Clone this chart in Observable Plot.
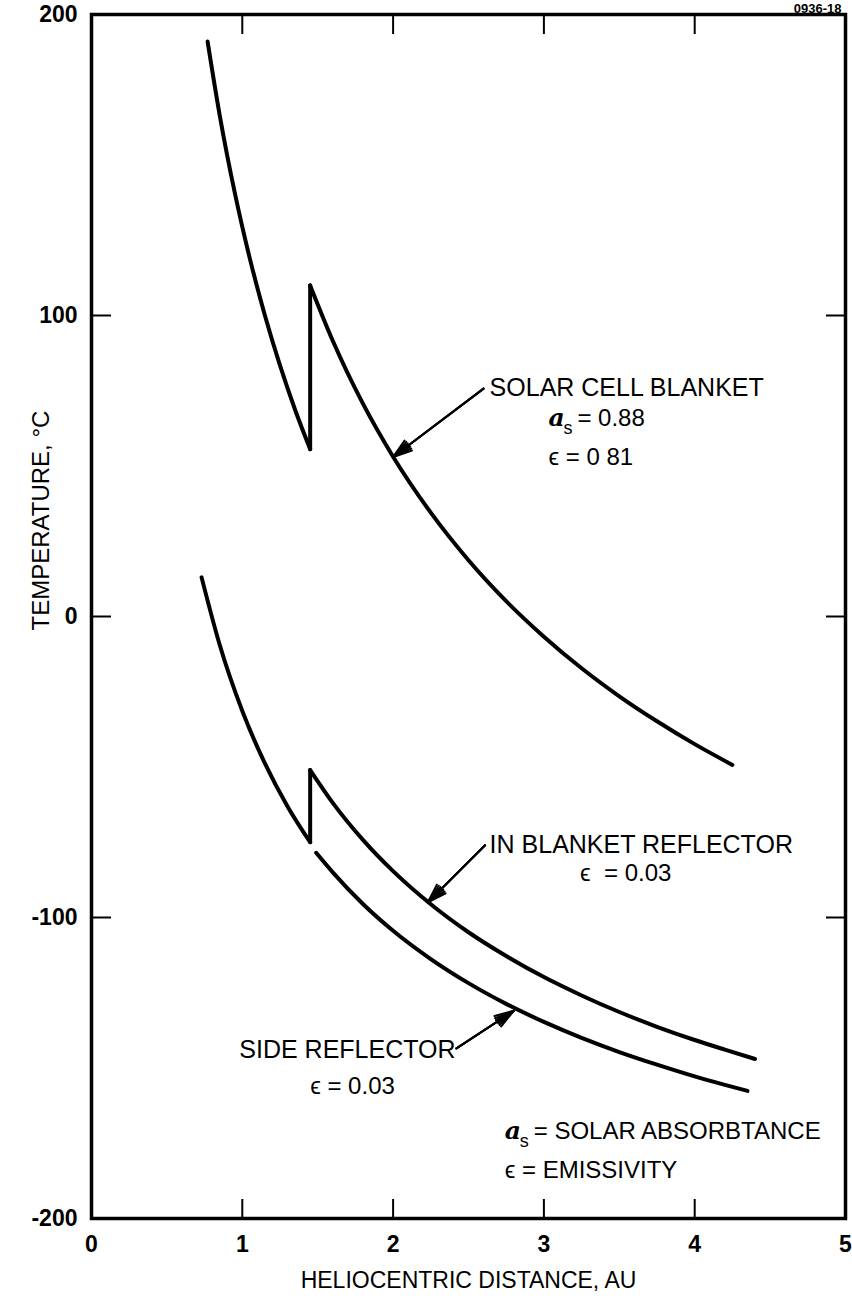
<!DOCTYPE html>
<html>
<head>
<meta charset="utf-8">
<script src="https://cdn.jsdelivr.net/npm/d3@7"></script>
<script src="https://cdn.jsdelivr.net/npm/@observablehq/plot@0.6"></script>
<style>
  html, body { margin: 0; padding: 0; background: #fff; }
  #chart svg { display: block; }
</style>
</head>
<body>
<div id="chart"></div>
<script>
// ---- Data (heliocentric distance AU, temperature °C) ----
const blanketX = [0.77, 0.85, 0.95, 1.05, 1.15, 1.25, 1.35, 1.45, 1.45, 1.6, 1.8, 2.0, 2.25, 2.5, 2.75, 3.0, 3.25, 3.5, 3.75, 4.0, 4.25];
const blanketT = [191, 166.6, 140.8, 118.9, 100.0, 83.4, 68.7, 55.6, 110, 91.6, 70.7, 53.1, 34.5, 18.7, 5.1, -6.7, -17.2, -26.5, -34.8, -42.4, -49.3];

const inBlanketX = [0.73, 0.85, 1.0, 1.15, 1.3, 1.45, 1.45, 1.6, 1.8, 2.0, 2.25, 2.5, 2.75, 3.0, 3.25, 3.5, 3.75, 4.0, 4.2, 4.4];
const inBlanketT = [13, -9.4, -31.4, -48.8, -63.1, -75.0, -51, -61.9, -74.2, -84.6, -95.6, -104.9, -112.8, -119.8, -125.9, -131.4, -136.3, -140.7, -143.9, -147.0];

const sideX = [1.49, 1.6, 1.8, 2.0, 2.25, 2.5, 2.75, 3.0, 3.25, 3.5, 3.75, 4.0, 4.2, 4.35];
const sideT = [-78.5, -85.0, -95.5, -104.4, -113.8, -121.8, -128.7, -134.7, -140.0, -144.7, -148.9, -152.8, -155.6, -157.6];

const xTickValues = [0, 1, 2, 3, 4, 5];
const xInnerTicks = [1, 2, 3, 4];
const yTickValues = [200, 100, 0, -100, -200];
const yInnerTicks = [100, 0, -100];

// annotation labels
const labelText = ["SOLAR CELL BLANKET", "IN BLANKET REFLECTOR", "SIDE REFLECTOR"];
const labelX = [2.64, 2.64, 0.98];
const labelT = [76, -76, -144];

const epsText = ["\u03F5 = 0 81", "\u03F5  = 0.03", "\u03F5 = 0.03", "\u03F5 = EMISSIVITY"];
const epsX = [3.03, 3.24, 1.45, 2.74];
const epsT = [53, -85.4, -156, -184];

const absText = ["= 0.88", "= SOLAR ABSORBTANCE"];
const absX = [3.03, 2.74];
const absT = [66, -171];

const arrowX1 = [2.6, 2.61, 2.42];
const arrowT1 = [75.7, -76, -143.5];
const arrowX2 = [2.0, 2.23, 2.8];
const arrowT2 = [53, -95, -131];

// ---- build tables ----
function segments(name, xs, ts) {
  const rows = [];
  let seg = 0;
  for (let i = 0; i < xs.length; i++) {
    if (i > 0 && xs[i] === xs[i - 1]) {
      // vertical jump drawn as its own straight segment
      seg++;
      rows.push({name, seg: `${name}-${seg}`, x: xs[i - 1], t: ts[i - 1]});
      rows.push({name, seg: `${name}-${seg}`, x: xs[i], t: ts[i]});
      seg++;
    }
    rows.push({name, seg: `${name}-${seg}`, x: xs[i], t: ts[i]});
  }
  return rows;
}
const curves = [
  ...segments("blanket", blanketX, blanketT),
  ...segments("inblanket", inBlanketX, inBlanketT),
  ...segments("side", sideX, sideT)
];
const labels = labelText.map((s, i) => ({s, x: labelX[i], t: labelT[i]}));
const eps = epsText.map((s, i) => ({s, x: epsX[i], t: epsT[i]}));
const abs = absText.map((s, i) => ({s, x: absX[i], t: absT[i]}));
const arrows = arrowX1.map((d, i) => ({x1: d, y1: arrowT1[i], x2: arrowX2[i], y2: arrowT2[i]}));

const FONT = "'Liberation Sans', Arial, Helvetica, sans-serif";
const arrowStyle = {x1: "x1", y1: "y1", x2: "x2", y2: "y2", stroke: "black", strokeWidth: 2, headLength: 15};

const chart = Plot.plot({
  width: 852,
  height: 1300,
  marginLeft: 91,
  marginRight: 7,
  marginTop: 14,
  marginBottom: 82,
  style: {fontFamily: FONT, background: "white", color: "black"},
  x: {domain: [0, 5]},
  y: {domain: [-200, 200]},
  marks: [
    Plot.frame({stroke: "black", strokeWidth: 3.5}),
    // tick labels
    Plot.axisX({ticks: xTickValues, tickSize: 0, tickPadding: 17, tickFormat: d => String(d),
      fontSize: 23, fontWeight: "bold", label: null}),
    Plot.axisY({ticks: yTickValues, tickSize: 0, tickPadding: 14, tickFormat: d => String(d),
      fontSize: 23, fontWeight: "bold", label: null}),
    // inward ticks
    Plot.axisX({anchor: "bottom", ticks: xInnerTicks, tickSize: -19, strokeWidth: 2, tickFormat: () => "", label: null}),
    Plot.axisX({anchor: "top", ticks: xInnerTicks, tickSize: -19, strokeWidth: 2, tickFormat: () => "", label: null}),
    Plot.axisY({anchor: "left", ticks: yInnerTicks, tickSize: -20, strokeWidth: 2, tickFormat: () => "", label: null}),
    Plot.axisY({anchor: "right", ticks: yInnerTicks, tickSize: -20, strokeWidth: 2, tickFormat: () => "", label: null}),
    // axis titles
    Plot.text(["HELIOCENTRIC DISTANCE, AU"], {frameAnchor: "bottom", dy: 69, fontSize: 23, text: d => d}),
    Plot.text(["TEMPERATURE, \u00B0C"], {frameAnchor: "left", dx: -50, dy: 14, rotate: -90, fontSize: 24, text: d => d}),
    Plot.text(["0936-18"], {frameAnchor: "top-right", dy: -11, dx: -4, textAnchor: "end", lineAnchor: "top", fontSize: 13, fontWeight: "bold", text: d => d}),
    // curves
    Plot.line(curves, {x: "x", y: "t", z: "seg", curve: "monotone-x", stroke: "black", strokeWidth: 4, strokeLinecap: "round", strokeLinejoin: "round"}),
    // arrows (layered head angles give a filled-looking head)
    Plot.arrow(arrows, {...arrowStyle, headAngle: 36}),
    Plot.arrow(arrows, {...arrowStyle, headAngle: 24}),
    Plot.arrow(arrows, {...arrowStyle, headAngle: 12}),
    // annotations
    Plot.text(labels, {x: "x", y: "t", text: "s", textAnchor: "start", fontSize: 25}),
    Plot.text(eps, {x: "x", y: "t", text: "s", textAnchor: "start", fontSize: 24}),
    Plot.text(abs, {x: "x", y: "t", text: () => "a", textAnchor: "start", fontSize: 25, fontStyle: "italic", fontWeight: "bold", fontFamily: "'DejaVu Serif', serif"}),
    Plot.text(abs, {x: "x", y: "t", text: () => "s", textAnchor: "start", dx: 15, dy: 10, fontSize: 18}),
    Plot.text(abs, {x: "x", y: "t", text: "s", textAnchor: "start", dx: 29, fontSize: 24})
  ]
});
document.getElementById("chart").appendChild(chart);
</script>
</body>
</html>
